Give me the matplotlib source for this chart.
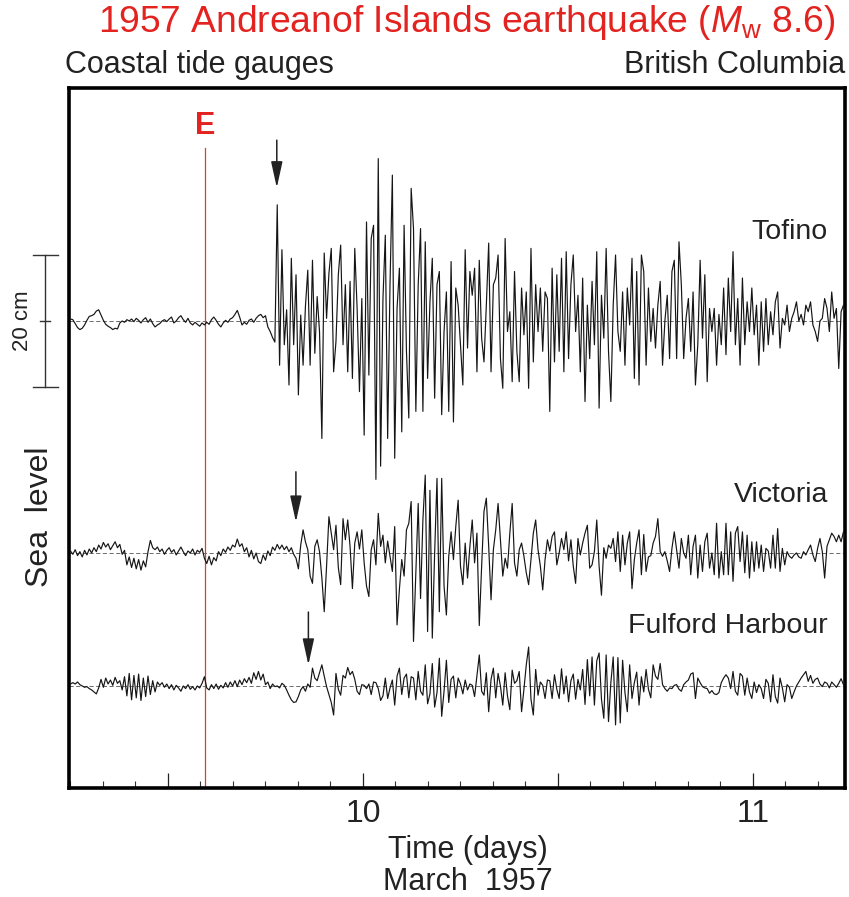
"""Tide gauge records of the 1957 Andreanof Islands tsunami, British Columbia."""

import matplotlib

matplotlib.use("Agg")
import matplotlib.pyplot as plt
import numpy as np
from matplotlib.ticker import MultipleLocator
from matplotlib.transforms import blended_transform_factory

plt.rcParams["font.family"] = "Liberation Sans"
plt.rcParams["mathtext.fontset"] = "custom"
plt.rcParams["mathtext.rm"] = "Liberation Sans"
plt.rcParams["mathtext.it"] = "Liberation Sans:italic"

# time axis: days of March 1957 (UTC), one sample every 1/166 day
T0 = 9.25
DT = 1 / 166
EVENT_TIME = 9.596
ARRIVAL_TIMES = [9.779, 9.828, 9.860]

STATIONS = ["Tofino", "Victoria", "Fulford Harbour"]

# sea level residuals, cm
TOFINO_CM = [
    0.3, 0.2, -0.4, -1.0, -1.3, -1.1, -0.6, 0.1, 0.7, 0.8,
    1.0, 1.5, 1.7, 0.9, 0.1, -0.5, -0.8, -1.0, -1.3, -1.1,
    -1.2, -0.3, 0.0, -0.2, 0.2, 0.0, 0.3, -0.1, 0.4, 0.1,
    -0.3, 0.2, 0.5, -0.2, 0.3, -0.4, -0.9, -0.6, -0.4, 0.0,
    0.2, -0.1, 0.3, 0.6, -0.3, 0.0, 0.5, 0.8, 0.2, -0.2,
    0.4, -0.3, -0.6, -0.2, -0.5, -0.8, -0.3, -0.6, -0.2, -0.5,
    0.2, 0.6, 0.1, -0.5, -0.9, -0.3, 0.1, -0.2, 0.3, 0.5,
    1.0, 1.6, 0.6, -0.6, -0.2, -0.5, 0.1, 0.3, -0.2, 0.4,
    0.8, 1.0, 0.5, 0.8, -0.9, -1.6, -2.5, -3.2,
    17.6, -6.7, 10.8, -3.6, 1.7, -9.7, 9.5, -3.6, 7.0, -11.2,
    0.9, -6.7, 2.2, 7.7, -6.7, 9.2, -4.9, 3.7, -1.6, -17.8,
    10.3, 0.4, 7.2, 11.0, -7.7, -3.1, 7.0, 11.5, -3.6, 5.5,
    -7.7, 6.0, -8.7, 11.0, 1.9, -10.7, 3.4, -17.3, 15.0, -8.2,
    12.5, 14.5, -24.0, 24.6, -22.0, 3.4, 13.0, -17.8, 5.5, 22.1,
    -20.8, 1.9, 8.0, -16.8, 14.5, -4.6, -14.7, 20.1, 14.0, -13.7,
    5.5, 14.0, -13.7, 12.0, -8.7, 2.9, 9.5, -11.7, 5.5, 7.5,
    -14.2, -1.6, 4.4, -13.7, 9.0, -15.3, 5.0, 2.4, -3.6, -9.7,
    10.8, -4.1, 7.5, 3.9, 8.0, -7.7, 9.2, -2.6, -6.2, 2.4,
    11.8, -7.7, 5.5, 6.5, 10.0, -5.7, -10.2, 12.5, -1.6, 1.4,
    -9.2, 7.5, -4.6, -9.2, 5.0, -2.1, 4.4, -10.2, 11.0, -6.2,
    5.5, -1.6, 5.0, -4.6, 4.4, 3.4, -13.7, 8.0, -6.2, 7.0,
    -4.6, 9.5, -7.7, 10.5, -5.7, 5.5, 10.0, -1.6, 3.9, -7.7,
    6.5, -12.2, 2.4, -5.7, 6.0, -3.6, 10.5, -13.2, 3.9, -2.6,
    11.0, -4.6, -12.2, 2.4, 10.0, -1.6, -4.6, 4.4, -6.7, 5.0,
    -0.6, 9.5, -8.7, 7.5, -9.7, 10.0, 7.5, -6.7, 5.0, -3.1,
    1.9, -4.1, 2.4, 6.0, -6.7, 0.0, 3.9, -5.7, 7.5, 9.2,
    -5.7, 12.0, 5.5, -5.7, 0.4, 3.4, -4.6, 4.4, -9.7, -3.6,
    9.2, -2.6, 7.0, -9.2, 1.9, -1.6, 1.9, -6.7, 1.0, -3.6,
    5.0, -5.1, 6.5, -1.6, 10.5, -3.6, 3.4, -6.7, 6.5, -3.6,
    2.9, -1.6, 5.0, -2.1, 2.4, -6.7, 2.9, -4.6, 3.4, -3.6,
    1.4, -2.1, 2.9, 4.4, -4.1, 0.4, -0.6, 2.4, -1.6, 0.4,
    1.4, 2.9, 0.0, 1.0, -0.6, 2.4, 1.4, 2.9, -0.6, -1.6,
    -3.1, 0.0, 0.4, 3.4, 1.9, -1.6, 4.4, 0.4, 1.9, -7.2,
    1.4, 2.4, 1.0, 0.0,
]

VICTORIA_CM = [
    0.3, -0.2, 0.5, -0.4, 0.2, -0.6, 0.4, -0.3, 0.6, 0.0,
    0.8, 0.2, 1.2, 0.6, 1.6, 0.9, 1.4, 0.5, 1.1, 1.7,
    0.8, 1.3, -0.2, 0.4, -1.8, -0.6, -2.2, -0.8, -2.4, -1.0,
    -2.6, -1.2, -2.1, 0.2, 1.9, 0.8, 0.5, 0.9, 0.2, 0.6,
    -0.2, 0.4, 0.8, 0.1, 0.5, -0.3, 0.3, 0.9, 0.2, -0.4,
    0.3, 0.0, 0.6, -0.3, 0.4, 0.1, 0.7, -0.8, -1.6, -0.5,
    -1.8, -0.7, -1.2, 0.2, -0.4, 0.6, 0.1, 0.9, 0.4, 1.2,
    0.9, 2.1, 1.0, 1.4, 0.2, 0.8, -0.6, 0.4, -0.9, 0.0,
    -1.3, -1.6, -0.3, -1.1, 0.3, -0.4, 0.9, 0.4, 1.3, 0.6,
    1.2, 0.5, 1.0, 0.2, 0.8, -0.2, -0.8, -2.4, 1.2, 3.5,
    1.7, 0.5, -3.5, -4.6, 1.0, 2.0, 0.2, -3.8, -8.9, -2.0,
    5.5, 3.0, 0.5, 4.2, -2.2, -4.8, 5.2, 2.0, 5.0, 1.0,
    -5.4, 1.5, 3.2, 0.6, 3.5, -1.5, -5.0, -6.6, 0.5, 2.0,
    -1.8, 6.0, 1.0, 2.7, -1.5, 1.8, -0.5, -2.8, 4.0, -10.9,
    -5.5, -1.0, -3.5, 3.5, 4.5, 7.8, -13.4, -3.0, 7.5, -6.9,
    5.0, 11.8, -11.9, 9.5, -12.9, 0.0, 11.3, -8.9, 11.3, -5.0,
    -9.4, -0.5, 3.2, -1.0, 4.0, 8.0, -2.0, -4.8, 1.5, -3.8,
    1.0, 5.0, -1.5, 3.0, -11.0, -2.0, 6.3, 8.3, 1.0, -7.1,
    0.5, 3.5, 7.5, 2.0, -3.5, -0.8, -2.3, 3.0, 7.5, -1.5,
    -3.5, 0.5, 1.5, -0.5, -3.0, -4.8, -1.0, 3.0, 5.0, 0.5,
    -2.0, -5.6, -1.0, 2.0, 0.3, 2.5, 3.2, -1.8, 0.0, 2.2,
    0.5, 3.2, -1.2, 2.0, -2.0, -4.6, 2.2, -0.3, 1.5, 3.0,
    4.2, -2.3, -1.8, 0.2, 5.0, -2.0, -6.4, 0.8, -0.8, 1.2,
    0.7, 2.2, -1.3, 3.2, -2.8, 2.7, -1.8, 1.5, 3.2, -5.4,
    -1.0, 1.5, 3.5, -3.3, 2.8, -2.8, -0.6, -0.4, 1.5, 2.5,
    5.2, 0.2, -0.5, 0.2, -1.2, -2.8, 0.7, 3.2, 0.5, -2.3,
    2.2, 0.0, -0.8, 2.7, -3.3, 1.0, 2.7, -3.8, 1.2, -2.8,
    1.7, 3.0, -2.3, 0.0, -3.3, 4.5, -3.8, 0.2, -3.3, 4.5,
    -3.3, 3.2, -4.3, 3.0, 4.0, -1.3, 3.2, -3.0, 2.7, -3.8,
    1.7, -2.8, 1.7, -2.3, 1.2, -2.8, 0.7, 0.3, -2.3, 2.7,
    -2.3, 3.7, -2.8, 0.7, -1.8, 0.2, -0.5, -0.8, -0.3, 0.0,
    -0.6, -0.8, 0.2, -0.3, 0.5, 1.2, -0.3, -1.3, 0.7, 2.2,
    0.2, -3.8, 1.0, 2.0, 3.0, 2.5, 1.7, 2.7, 1.7, 3.2,
    2.0, 1.5,
]

FULFORD_CM = [
    0.3, 0.5, 0.3, 0.6, 0.2, 0.0, -0.2, -0.1, -0.4, -0.6,
    -0.9, -1.2, -0.3, 1.0, -0.2, 1.2, 0.3, 0.9, 0.1, 1.3,
    0.4, 0.8, -0.6, 1.4, -1.5, 1.9, -2.1, 1.6, -1.8, 1.8,
    -2.2, 1.2, -1.6, 1.5, -1.3, 0.8, -0.9, 0.6, 0.1, 0.5,
    -0.2, 0.3, -0.4, 0.2, -0.6, 0.1, -0.3, -0.8, 0.0, -0.4,
    0.2, -0.5, -0.1, -0.6, 0.0, -0.3, 0.4, 1.4, -0.3, -0.6,
    0.2, -0.4, 0.3, -0.5, 0.1, -0.3, 0.5, -0.2, 0.6, 0.0,
    0.8, -0.1, 0.9, 0.2, 1.1, 0.5, 1.3, 0.4, 2.0, 1.0,
    2.2, 0.9, 1.8, 0.2, 0.6, -0.4, 0.3, -0.1, 0.0, -0.3,
    0.4, 0.1, -0.6, -1.4, -2.1, -2.5, -2.4, -1.6, -0.6, -0.1,
    -0.8, 0.3, -0.2, 2.7, 1.2, 0.8, 2.0, 3.2, 1.5, -0.1,
    -1.3, -2.5, -4.4, 1.9, -0.5, -1.4, 1.6, 1.2, 2.8, 1.7,
    2.2, 1.0, -0.8, -1.3, 0.2, 0.1, -0.4, 0.3, -1.3, 0.6,
    0.5, -0.4, -2.2, -1.5, 1.2, -1.9, -0.3, 0.9, -2.9, 1.5,
    2.7, -1.3, 1.2, 1.8, -1.8, 1.4, 1.2, -2.1, 2.2, -0.8,
    -1.4, 3.2, -2.7, -1.2, 3.4, -3.2, -1.0, 4.2, -4.6, -0.8,
    3.9, -2.5, 1.0, 1.5, -1.8, 1.2, 0.3, -1.2, 0.9, -0.6,
    0.3, 0.1, -1.6, 1.5, 4.7, -0.8, -1.4, 2.0, -3.9, 1.0,
    2.7, -1.8, 1.9, 0.0, -2.9, 2.0, -1.5, -3.6, 2.4, 0.4,
    0.8, 2.2, -3.9, -0.5, 3.2, 5.9, -2.0, -4.4, 2.5, -1.4,
    0.6, 0.1, -1.9, 0.9, 0.8, -1.9, 1.7, -0.5, -1.9, 2.6,
    -1.2, 1.5, -2.4, 0.8, 1.8, -2.0, 1.0, -0.6, 2.5, -2.8,
    4.0, -1.5, 4.4, -2.9, 3.8, 5.0, -2.0, -4.9, 4.7, -5.4,
    0.5, 4.4, -5.9, 4.3, -5.6, 3.9, -1.0, -3.9, 3.2, -1.9,
    0.5, 2.1, -2.9, 1.4, -0.9, 2.5, -0.5, -1.8, 3.2, 1.5,
    1.0, 3.4, 0.2, -0.4, -0.8, -0.3, -0.4, 0.1, 0.2, -0.5,
    -0.8, 0.2, 0.6, 0.9, 1.8, 2.0, -1.9, 1.2, 0.5, -0.1,
    -0.3, -0.4, -1.1, -0.7, -1.2, -1.3, -1.0, 0.5, 1.2, 1.7,
    1.2, -0.4, 2.2, -0.8, -1.4, 1.9, 1.5, -1.4, 1.2, -0.9,
    -1.9, 0.6, -1.0, 0.2, -0.4, -1.9, 1.0, 0.4, -2.4, 1.7,
    -1.6, -2.6, 1.2, -0.3, -2.4, 0.2, -0.2, -1.9, -0.9, 0.0,
    0.6, 1.2, 1.7, 2.2, 0.7, 1.6, 0.4, 1.0, 1.2, 0.3,
    -0.1, 0.6, 0.4, -0.3, 0.6, 0.2, -0.2, 0.4, 1.1, 0.2,
    0.5, 0.3,
]

# layout (cm on the vertical axis, stations stacked)
OFFSETS = [0.0, -35.15, -55.3]
LABEL_Y = [12.4, -27.4, -47.3]
ARROW_TAIL = [27.4, 12.3, 11.2]
ARROW_TIP = [20.2, 4.7, 3.2]
XLIM = (9.2462, 11.2359)
YLIM = (-70.76, 35.3)
RED = "#e2231f"
W, H = 849, 897


def fx(px):
    return px / W


def fy(py):
    return 1 - py / H


fig = plt.figure(figsize=(W / 100, H / 100), dpi=100)
ax = fig.add_axes([fx(69), fy(788), 776 / W, 700 / H])

series = [TOFINO_CM, VICTORIA_CM, FULFORD_CM]
for name, values, offset, label_y in zip(STATIONS, series, OFFSETS, LABEL_Y):
    t = T0 + DT * np.arange(len(values))
    ax.axhline(offset, color="#555555", lw=0.6, ls=(0, (5, 3)), zorder=1)
    ax.plot(t, np.asarray(values) + offset, color="#151515", lw=0.85, zorder=3)
    ax.text(11.192, label_y, name, ha="right", va="baseline", fontsize=20.5, color="#222222")

for t, off, tail, tip in zip(ARRIVAL_TIMES, OFFSETS, ARROW_TAIL, ARROW_TIP):
    ax.annotate(
        "",
        xy=(t, off + tip),
        xytext=(t, off + tail),
        arrowprops=dict(
            arrowstyle="-|>,head_length=1.0,head_width=0.22",
            mutation_scale=16,
            color="#222222",
            lw=1.1,
            shrinkA=0,
            shrinkB=0,
        ),
        zorder=4,
    )

# earthquake origin time
ax.plot([EVENT_TIME, EVENT_TIME], [26.2, YLIM[0]], color="#e03a3a", lw=0.9, zorder=2)
ax.text(EVENT_TIME, 29.6, "E", color=RED, fontsize=22, fontweight="bold", ha="center", va="center")

ax.set_xlim(*XLIM)
ax.set_ylim(*YLIM)
ax.set_xticks([9.5, 10, 10.5, 11])
ax.set_xticklabels(["", "10", "", "11"])
ax.xaxis.set_minor_locator(MultipleLocator(1 / 12))
ax.tick_params(axis="x", which="major", direction="in", length=11, width=0.9,
               labelsize=23, pad=8, colors="#222222")
ax.tick_params(axis="x", which="minor", direction="in", length=5, width=0.8, colors="#333333")
ax.tick_params(axis="y", left=False, labelleft=False)
for spine in ax.spines.values():
    spine.set_linewidth(2.6)
    spine.set_color("black")

# 20 cm scale bar left of the frame
trans = blended_transform_factory(fig.transFigure, ax.transData)
bar = dict(transform=trans, color="#333333", lw=1.0, clip_on=False)
ax.plot([fx(45), fx(45)], [-10, 10], **bar)
ax.plot([fx(33), fx(58)], [10, 10], **bar)
ax.plot([fx(33), fx(58)], [-10, -10], **bar)
ax.plot([fx(40), fx(50)], [0, 0], **bar)
ax.text(fx(22), 0, "20 cm", transform=trans, rotation=90, ha="center", va="center",
        fontsize=16, color="#222222")
ax.text(fx(40), -29.7, "Sea  level", transform=trans, rotation=90, ha="center",
        va="center", fontsize=23, color="#222222")

fig.text(fx(467), fy(32), r"1957 Andreanof Islands earthquake ($\mathit{M}_{\mathrm{w}}$ 8.6)",
         color=RED, fontsize=26.8, ha="center", va="baseline")
fig.text(fx(65), fy(73), "Coastal tide gauges", fontsize=22, ha="left", va="baseline",
         color="#222222")
fig.text(fx(845), fy(73), "British Columbia", fontsize=22, ha="right", va="baseline",
         color="#222222")
fig.text(fx(468), fy(850), "Time (days)", fontsize=22, ha="center", va="center",
         color="#222222")
fig.text(fx(468), fy(882), "March  1957", fontsize=22, ha="center", va="center",
         color="#222222")

fig.savefig("out.png", dpi=100)
